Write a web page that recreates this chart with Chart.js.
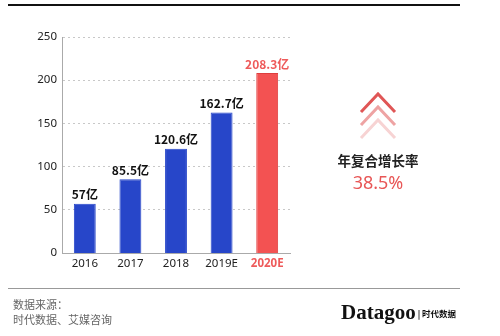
<!DOCTYPE html>
<html>
<head>
<meta charset="utf-8">
<script src="https://cdn.jsdelivr.net/npm/chart.js@4"></script>
<style>
  body { margin: 0; background: #fff; font-family: "Noto Sans", "Noto Sans CJK SC", sans-serif; }
  #wrap { position: relative; width: 500px; height: 336px; overflow: hidden; }
  #chart { position: absolute; left: 0; top: 0; }
  .topline { position: absolute; left: 8px; top: 4px; width: 452px; height: 2px; background: #111; }
  .footline { position: absolute; left: 8px; top: 288px; width: 452px; height: 1px; background: #999; }
  .src { position: absolute; left: 13px; top: 297px; font-size: 11px; line-height: 15px; color: #666; font-family: "Noto Sans CJK SC", sans-serif; }
  .cagr { position: absolute; left: 328px; top: 150px; width: 100px; text-align: center; font-size: 13.5px; font-weight: bold; color: #222; font-family: "Noto Sans CJK SC", sans-serif; }
  .rate { position: absolute; left: 328px; top: 170px; width: 100px; text-align: center; font-size: 18px; color: #e85656; font-family: "Noto Sans", sans-serif; }
  .logo { position: absolute; left: 341px; top: 300px; font-family: "Liberation Serif", serif; font-weight: bold; font-size: 21px; color: #111; letter-spacing: 0; }
  .logo small { font-family: "Noto Sans CJK SC", sans-serif; font-size: 8.5px; font-weight: bold; margin-left: 2px; vertical-align: 2px; }
  svg { position: absolute; left: 355px; top: 86px; }
</style>
</head>
<body>
<div id="wrap">
  <canvas id="chart" width="500" height="336"></canvas>
  <div class="topline"></div>
  <svg width="46" height="60" viewBox="0 0 46 60">
    <polyline points="6,26 23,8 40,26" fill="none" stroke="#e05656" stroke-width="3"/>
    <polyline points="6,39 23,21 40,39" fill="none" stroke="#eea3a3" stroke-width="3"/>
    <polyline points="6,52 23,34 40,52" fill="none" stroke="#f7d3d3" stroke-width="3"/>
  </svg>
  <div class="cagr">年复合增长率</div>
  <div class="rate">38.5%</div>
  <div class="footline"></div>
  <div class="src">数据来源：<br>时代数据、艾媒咨询</div>
  <div class="logo">Datagoo<small>| 时代数据</small></div>
</div>
<script>
const years = ["2016", "2017", "2018", "2019E", "2020E"];
const revenue = [57, 85.5, 120.6, 162.7, 208.3];
const valueLabels = ["57亿", "85.5亿", "120.6亿", "162.7亿", "208.3亿"];
const yTicks = [0, 50, 100, 150, 200, 250];

const blue = "#2746c9";
const red = "#f35252";

const barLabels = {
  id: "barLabels",
  afterDatasetsDraw(chart) {
    const { ctx } = chart;
    ctx.save();
    ctx.font = "bold 12px 'Noto Sans CJK SC', sans-serif";
    ctx.textAlign = "center";
    ctx.textBaseline = "bottom";
    chart.getDatasetMeta(0).data.forEach((bar, i) => {
      ctx.fillStyle = i === 4 ? "#ee5a5a" : "#111";
      ctx.fillText(valueLabels[i], bar.x, bar.y - 3);
    });
    ctx.restore();
  },
};

new Chart(document.getElementById("chart"), {
  type: "bar",
  data: {
    labels: years,
    datasets: [
      {
        data: revenue,
        backgroundColor: years.map((y, i) => (i === 4 ? red : blue)),
        borderColor: years.map((y, i) => (i === 4 ? "#de3e3e" : blue)),
        borderWidth: 1,
        categoryPercentage: 1,
        barPercentage: 0.48,
      },
    ],
  },
  options: {
    responsive: false,
    animation: false,
    layout: { padding: { left: 0, right: 210, top: 37, bottom: 0 } },
    plugins: { legend: { display: false }, tooltip: { enabled: false } },
    scales: {
      x: {
        grid: { display: false, drawTicks: false },
        border: { color: "#aaa", width: 1 },
        ticks: {
          padding: 4,
          color: (c) => (c.index === 4 ? "#ee5a5a" : "#222"),
          font: (c) => ({ size: 11.5, family: "'Noto Sans', sans-serif", weight: c.index === 4 ? "bold" : "normal" }),
        },
        afterFit: (s) => { s.height = 83; },
      },
      y: {
        min: 0,
        max: 250,
        afterBuildTicks: (s) => { s.ticks = yTicks.map((v) => ({ value: v })); },
        grid: { color: "#c8c8c8", drawTicks: false, lineWidth: (c) => (c.tick.value === 0 ? 0 : 1) },
        border: { color: "#aaa", width: 1, dash: [2, 3] },
        ticks: {
          padding: 5,
          color: "#222",
          font: { size: 11.5, family: "'Noto Sans', sans-serif" },
        },
        afterFit: (s) => { s.width = 62; },
      },
    },
  },
  plugins: [barLabels],
});
</script>
</body>
</html>
